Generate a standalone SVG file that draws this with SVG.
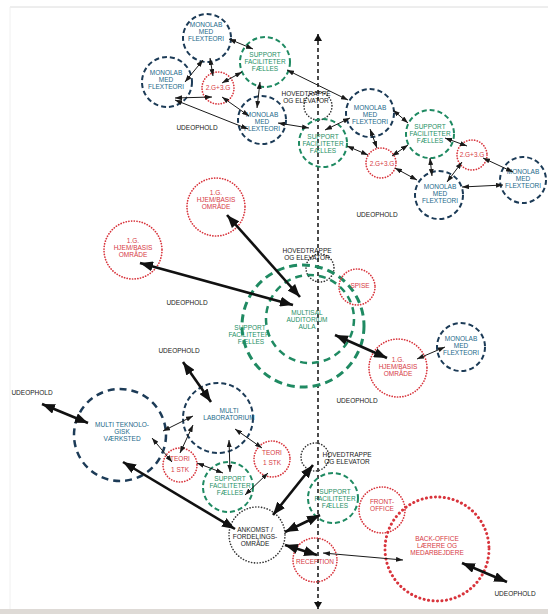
<svg xmlns="http://www.w3.org/2000/svg" width="548" height="614" viewBox="0 0 548 614">
<defs>
<style>
.t{font-family:"Liberation Sans",Arial,sans-serif;font-size:6.5px;text-anchor:middle}
.b{fill:#23698a}.g{fill:#1f9066}.r{fill:#d63a44}.k{fill:#1a1a1a}
.nv{fill:none;stroke:#1c3b57;stroke-width:2;stroke-dasharray:5 3}
.gr{fill:none;stroke:#1f8a62;stroke-width:2;stroke-dasharray:5 3}
.rd{fill:none;stroke:#d8343c;stroke-width:1.7;stroke-dasharray:0.1 2.6;stroke-linecap:round}
.bk{fill:none;stroke:#333;stroke-width:1.6;stroke-dasharray:0.1 2.8;stroke-linecap:round}
.th{stroke:#1a1a1a;stroke-width:1;fill:none;marker-start:url(#a);marker-end:url(#a)}
.tk{stroke:#111;stroke-width:2.6;fill:none;marker-start:url(#A);marker-end:url(#A)}
</style>
<marker id="a" viewBox="0 0 7 5" refX="7" refY="2.5" markerWidth="7" markerHeight="5" markerUnits="userSpaceOnUse" orient="auto-start-reverse"><path d="M0,0L7,2.5L0,5z" fill="#1a1a1a"/></marker>
<marker id="A" viewBox="0 0 13 10" refX="13" refY="5" markerWidth="13" markerHeight="10" markerUnits="userSpaceOnUse" orient="auto-start-reverse"><path d="M0,0L13,5L0,10z" fill="#111"/></marker>
<marker id="v" viewBox="0 0 7 8" refX="7" refY="4" markerWidth="7" markerHeight="8" markerUnits="userSpaceOnUse" orient="auto-start-reverse"><path d="M0,0L7,4L0,8z" fill="#111"/></marker>
</defs>
<rect width="548" height="614" fill="#fff"/>
<line x1="10" y1="7" x2="548" y2="7" stroke="#dcdcdc" stroke-width="1"/>
<line x1="10" y1="7" x2="10" y2="609" stroke="#f0f0f0" stroke-width="1"/>
<rect x="0" y="609" width="548" height="5" fill="#dedad6"/>

<g id="axis">
<line x1="318" y1="34" x2="318" y2="609" stroke="#111" stroke-width="1.5" stroke-dasharray="4 3" marker-start="url(#v)" marker-end="url(#v)"/>
</g>

<!-- top cluster -->
<g id="n-monolab-1"><circle cx="207" cy="38" r="24" class="nv"/><text class="t b"><tspan x="206" y="27.3">MONOLAB</tspan><tspan x="206" y="34.3">MED</tspan><tspan x="206" y="41.3">FLEXTEORI</tspan></text></g>
<g id="n-support-1"><circle cx="265" cy="62" r="25" class="gr"/><text class="t g"><tspan x="265" y="57.3">SUPPORT</tspan><tspan x="265" y="64.3">FACILITETER</tspan><tspan x="265" y="71.3">FÆLLES</tspan></text></g>
<g id="n-monolab-2"><circle cx="167" cy="82" r="25" class="nv"/><text class="t b"><tspan x="166" y="75.3">MONOLAB</tspan><tspan x="166" y="82.3">MED</tspan><tspan x="166" y="89.3">FLEXTEORI</tspan></text></g>
<g id="n-2g3g-1"><circle cx="218" cy="88" r="16" class="rd"/><text class="t r" x="218" y="90.3">2.G+3.G</text></g>
<g id="n-monolab-3"><circle cx="262" cy="120" r="24" class="nv"/><text class="t b"><tspan x="262" y="117.3">MONOLAB</tspan><tspan x="262" y="124.3">MED</tspan><tspan x="262" y="131.3">FLEXTEORI</tspan></text></g>
<g id="n-trappe-1"><circle cx="318" cy="106" r="14" class="bk"/><text class="t k"><tspan x="306" y="96.3">HOVEDTRAPPE</tspan><tspan x="306" y="103.3">OG ELEVATOR</tspan></text></g>
<g id="n-support-2"><circle cx="323" cy="143" r="24" class="gr"/><text class="t g"><tspan x="323" y="139.3">SUPPORT</tspan><tspan x="323" y="146.3">FACILITETER</tspan><tspan x="323" y="153.3">FÆLLES</tspan></text></g>
<g id="n-monolab-4"><circle cx="370" cy="113" r="24" class="nv"/><text class="t b"><tspan x="370" y="110.3">MONOLAB</tspan><tspan x="370" y="117.3">MED</tspan><tspan x="370" y="124.3">FLEXTEORI</tspan></text></g>
<g id="n-2g3g-2"><circle cx="381" cy="163" r="15" class="rd"/><text class="t r" x="382" y="166.3">2.G+3.G</text></g>
<g id="n-support-3"><circle cx="430" cy="134" r="24" class="gr"/><text class="t g"><tspan x="430" y="129.3">SUPPORT</tspan><tspan x="430" y="136.3">FACILITETER</tspan><tspan x="430" y="143.3">FÆLLES</tspan></text></g>
<g id="n-monolab-5"><circle cx="439" cy="195" r="24" class="nv"/><text class="t b"><tspan x="440" y="189.3">MONOLAB</tspan><tspan x="440" y="196.3">MED</tspan><tspan x="440" y="203.3">FLEXTEORI</tspan></text></g>
<g id="n-2g3g-3"><circle cx="472" cy="155" r="15" class="rd"/><text class="t r" x="472" y="157.3">2.G+3.G</text></g>
<g id="n-monolab-6"><circle cx="523" cy="180" r="23" class="nv"/><text class="t b"><tspan x="523" y="174.3">MONOLAB</tspan><tspan x="523" y="181.3">MED</tspan><tspan x="523" y="188.3">FLEXTEORI</tspan></text></g>
<g id="n-ude-1"><text class="t k" x="197" y="130.3">UDEOPHOLD</text></g>
<g id="n-ude-2"><text class="t k" x="377" y="217.3">UDEOPHOLD</text></g>

<!-- middle -->
<g id="n-hjem-1"><circle cx="216" cy="207" r="29" class="rd"/><text class="t r"><tspan x="216" y="195.3">1.G.</tspan><tspan x="216" y="202.3">HJEM/BASIS</tspan><tspan x="216" y="209.3">OMRÅDE</tspan></text></g>
<g id="n-hjem-2"><circle cx="133" cy="250" r="29" class="rd"/><text class="t r"><tspan x="133" y="243.3">1.G.</tspan><tspan x="133" y="250.3">HJEM/BASIS</tspan><tspan x="133" y="257.3">OMRÅDE</tspan></text></g>
<g id="n-trappe-2"><circle cx="320" cy="268" r="14" class="bk"/><text class="t k"><tspan x="307" y="253.3">HOVEDTRAPPE</tspan><tspan x="307" y="260.3">OG ELEVATOR</tspan></text></g>
<g id="n-aula"><circle cx="303" cy="326" r="61" fill="none" stroke="#1f8a62" stroke-width="3" stroke-dasharray="8 5"/><circle cx="310" cy="319" r="44" fill="none" stroke="#1f8a62" stroke-width="2.5" stroke-dasharray="7 5"/><text class="t g"><tspan x="307" y="315.3">MULTISAL</tspan><tspan x="307" y="322.3">AUDITORIUM</tspan><tspan x="307" y="329.3">AULA</tspan><tspan x="250" y="330.3">SUPPORT</tspan><tspan x="249" y="337.3">FACILITETER</tspan><tspan x="251" y="344.3">FÆLLES</tspan></text></g>
<g id="n-spise"><circle cx="357" cy="287" r="18" class="rd"/><text class="t r" x="360" y="288.3">SPISE</text></g>
<g id="n-hjem-3"><circle cx="398" cy="368" r="29" class="rd"/><text class="t r"><tspan x="398" y="362.3">1.G.</tspan><tspan x="398" y="369.3">HJEM/BASIS</tspan><tspan x="398" y="376.3">OMRÅDE</tspan></text></g>
<g id="n-monolab-7"><circle cx="461" cy="347" r="24" class="nv"/><text class="t b"><tspan x="461" y="341.3">MONOLAB</tspan><tspan x="461" y="348.3">MED</tspan><tspan x="461" y="355.3">FLEXTEORI</tspan></text></g>
<g id="n-ude-3"><text class="t k" x="187" y="305.3">UDEOPHOLD</text></g>
<g id="n-ude-4"><text class="t k" x="179" y="353.3">UDEOPHOLD</text></g>
<g id="n-ude-5"><text class="t k" x="357" y="403.3">UDEOPHOLD</text></g>

<!-- bottom -->
<g id="n-ude-6"><text class="t k" x="32" y="395.3">UDEOPHOLD</text></g>
<g id="n-vaerksted"><circle cx="120" cy="435" r="46" fill="none" stroke="#1c3b57" stroke-width="2.5" stroke-dasharray="7 5"/><text class="t b"><tspan x="122" y="427.3">MULTI TEKNOLO-</tspan><tspan x="122" y="434.3">GISK</tspan><tspan x="122" y="441.3">VÆRKSTED</tspan></text></g>
<g id="n-lab"><circle cx="218" cy="418" r="35" class="nv"/><text class="t b"><tspan x="229" y="413.3">MULTI</tspan><tspan x="229" y="420.3">LABORATORIUM</tspan></text></g>
<g id="n-teori-1"><circle cx="180" cy="465" r="17" class="rd"/><text class="t r"><tspan x="180" y="461.3">TEORI</tspan><tspan x="180" y="472.3">1 STK</tspan></text></g>
<g id="n-teori-2"><circle cx="272" cy="459" r="18" class="rd"/><text class="t r"><tspan x="272" y="455.3">TEORI</tspan><tspan x="272" y="465.3">1 STK</tspan></text></g>
<g id="n-support-4"><circle cx="228" cy="487" r="25" class="gr"/><text class="t g"><tspan x="230" y="481.3">SUPPORT</tspan><tspan x="230" y="488.3">FACILITETER</tspan><tspan x="230" y="495.3">FÆLLES</tspan></text></g>
<g id="n-trappe-3"><circle cx="315" cy="457" r="14" class="bk"/><text class="t k"><tspan x="347" y="457.3">HOVEDTRAPPE</tspan><tspan x="347" y="464.3">OG ELEVATOR</tspan></text></g>
<g id="n-support-5"><circle cx="333" cy="498" r="25" class="gr"/><text class="t g"><tspan x="335" y="494.3">SUPPORT</tspan><tspan x="335" y="501.3">FACILITETER</tspan><tspan x="335" y="508.3">FÆLLES</tspan></text></g>
<g id="n-front"><circle cx="382" cy="510" r="23" class="rd"/><text class="t r"><tspan x="382" y="504.3">FRONT-</tspan><tspan x="382" y="511.3">OFFICE</tspan></text></g>
<g id="n-back"><circle cx="437" cy="549" r="52" fill="none" stroke="#d8343c" stroke-width="3" stroke-dasharray="0.1 4.4" stroke-linecap="round"/><text class="t r"><tspan x="437" y="541.3">BACK-OFFICE</tspan><tspan x="437" y="548.3">LÆRERE OG</tspan><tspan x="437" y="555.3">MEDARBEJDERE</tspan></text></g>
<g id="n-ankomst"><circle cx="257" cy="535" r="28" class="bk"/><text class="t k"><tspan x="255" y="532.3">ANKOMST /</tspan><tspan x="255" y="539.3">FORDELINGS-</tspan><tspan x="255" y="546.3">OMRÅDE</tspan></text></g>
<g id="n-reception"><circle cx="315" cy="560" r="22" class="rd"/><text class="t r" x="315" y="564.3">RECEPTION</text></g>
<g id="n-ude-7"><text class="t k" x="515" y="596.3">UDEOPHOLD</text></g>

<g id="connectors">
<line class="th" x1="229" y1="39" x2="253" y2="49"/>
<line class="th" x1="203" y1="60" x2="185" y2="82"/>
<line class="th" x1="210" y1="58" x2="213" y2="76"/>
<line class="th" x1="242" y1="72" x2="222" y2="83"/>
<line class="th" x1="175" y1="98" x2="212" y2="97"/>
<line class="th" x1="222" y1="97" x2="249" y2="116"/>
<line class="th" x1="260" y1="82" x2="257" y2="108"/>
<line class="th" x1="175" y1="100" x2="248" y2="129"/>
<line class="th" x1="278" y1="123" x2="309" y2="128"/>
<line class="th" x1="287" y1="70" x2="348" y2="100"/>
<line class="th" x1="350" y1="118" x2="325" y2="130"/>
<line class="th" x1="370" y1="129" x2="377" y2="148"/>
<line class="th" x1="347" y1="146" x2="368" y2="155"/>
<line class="th" x1="392" y1="156" x2="408" y2="145"/>
<line class="th" x1="393" y1="110" x2="408" y2="123"/>
<line class="th" x1="430" y1="158" x2="432" y2="176"/>
<line class="th" x1="395" y1="168" x2="417" y2="180"/>
<line class="th" x1="445" y1="138" x2="467" y2="146"/>
<line class="th" x1="447" y1="182" x2="462" y2="162"/>
<line class="th" x1="483" y1="158" x2="513" y2="172"/>
<line class="th" x1="462" y1="187" x2="503" y2="185"/>

<line class="tk" x1="227" y1="215" x2="300" y2="297"/>
<line class="tk" x1="140" y1="263" x2="293" y2="305"/>
<line class="tk" x1="335" y1="335" x2="387" y2="358"/>
<line class="th" x1="417" y1="359" x2="445" y2="347"/>

<line class="tk" x1="42" y1="404" x2="88" y2="423"/>
<line class="tk" x1="183" y1="362" x2="211" y2="402"/>
<line class="th" x1="163" y1="431" x2="193" y2="416"/>
<line class="th" x1="152" y1="438" x2="172" y2="462"/>
<line class="th" x1="180" y1="453" x2="193" y2="425"/>
<line class="th" x1="235" y1="429" x2="262" y2="448"/>
<line class="th" x1="229" y1="440" x2="230" y2="472"/>
<line class="th" x1="197" y1="463" x2="223" y2="473"/>
<line class="th" x1="268" y1="473" x2="245" y2="495"/>
<line class="tk" x1="123" y1="462" x2="235" y2="529"/>
<line class="tk" x1="273" y1="515" x2="313" y2="465"/>
<line class="tk" x1="285" y1="532" x2="320" y2="515"/>
<line class="tk" x1="285" y1="545" x2="317" y2="555"/>
<line class="th" x1="323" y1="553" x2="403" y2="560"/>
<line class="tk" x1="462" y1="563" x2="507" y2="582"/>
</g>
</svg>
